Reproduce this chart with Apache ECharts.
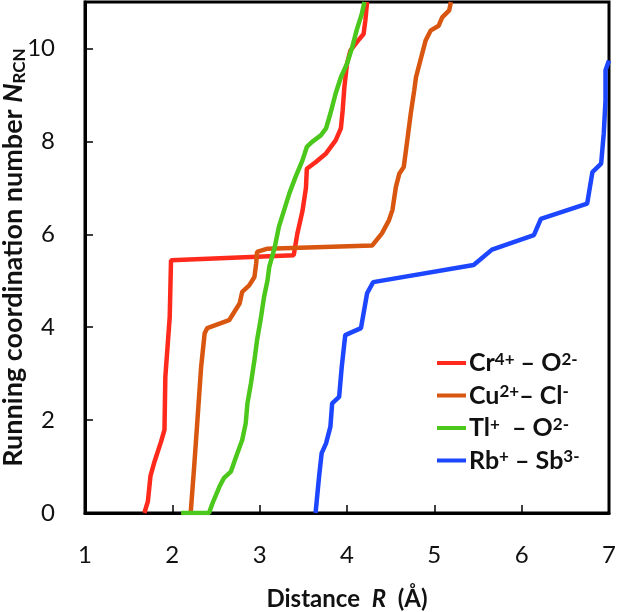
<!DOCTYPE html>
<html>
<head>
<meta charset="utf-8">
<script src="https://cdn.jsdelivr.net/npm/echarts@6/dist/echarts.min.js"></script>
<style>
	html, body {margin: 0; padding: 0; background: #fff;}
	#chart {width: 617px; height: 612px;}
</style>
</head>
<body>
<div id="chart"></div>
<script>
// distance R (Å), running coordination number
const crO = [[1.68, 0], [1.72, 0.25], [1.75, 0.8], [1.79, 1.07], [1.87, 1.53], [1.91, 1.79], [1.92, 2.93], [1.97, 4.22], [1.985, 5.44],
	[3.39, 5.55], [3.43, 6.0], [3.49, 6.5], [3.53, 7.0], [3.54, 7.41], [3.64, 7.55], [3.76, 7.74], [3.87, 8.02], [3.93, 8.28],
	[3.95, 8.66], [3.97, 9.17], [4.0, 9.67], [4.04, 9.96], [4.14, 10.2], [4.19, 10.31], [4.21, 10.6], [4.23, 11]];
const cuCl = [[2.21, 0], [2.25, 1.0], [2.29, 2.07], [2.33, 3.15], [2.37, 3.87], [2.4, 3.98], [2.65, 4.15], [2.77, 4.51], [2.8, 4.76],
	[2.88, 4.9], [2.94, 5.08], [2.96, 5.37], [2.97, 5.62], [3.09, 5.69], [4.29, 5.76], [4.4, 6.02], [4.48, 6.3], [4.52, 6.52],
	[4.56, 7.02], [4.6, 7.31], [4.65, 7.45], [4.69, 8.02], [4.73, 8.6], [4.77, 9.1], [4.79, 9.38], [4.84, 9.74], [4.9, 10.17],
	[4.96, 10.39], [5.05, 10.49], [5.09, 10.67], [5.17, 10.82], [5.19, 11]];
const tlO = [[2.1, 0], [2.42, 0], [2.46, 0.21], [2.54, 0.57], [2.59, 0.75], [2.67, 0.89], [2.73, 1.21], [2.8, 1.57], [2.84, 1.93],
	[2.86, 2.36], [2.9, 2.79], [2.94, 3.29], [2.97, 3.72], [3.01, 4.15], [3.05, 4.65], [3.09, 5.01], [3.11, 5.3], [3.17, 5.7],
	[3.22, 6.16], [3.28, 6.52], [3.34, 6.88], [3.41, 7.23], [3.49, 7.59], [3.54, 7.88], [3.6, 7.99], [3.7, 8.13], [3.76, 8.28],
	[3.81, 8.6], [3.87, 9.03], [3.93, 9.38], [4.0, 9.67], [4.06, 10.03], [4.11, 10.39], [4.17, 10.75], [4.2, 11]];
const rbSb = [[3.64, 0], [3.68, 0.78], [3.71, 1.29], [3.76, 1.5], [3.81, 1.86], [3.83, 2.36], [3.91, 2.5], [3.94, 3.15], [3.98, 3.83],
	[4.16, 3.98], [4.23, 4.73], [4.3, 4.97], [5.45, 5.34], [5.66, 5.67], [6.14, 5.98], [6.22, 6.33], [6.75, 6.66], [6.81, 7.34],
	[6.91, 7.52], [6.94, 8.17], [6.96, 8.88], [6.96, 9.53], [7.0, 9.74]];

const seriesNames = ['Cr4+ – O2-', 'Cu2+– Cl-', 'Tl+ – O2-', 'Rb+ – Sb3-'];
const legendLabels = {
	'Cr4+ – O2-': '{t|Cr}{s|4+}{t| – O}{s|2-}',
	'Cu2+– Cl-': '{t|Cu}{s|2+}{t|– Cl}{s|-}',
	'Tl+ – O2-': '{t|Tl}{s|+}{t|  – O}{s|2-}',
	'Rb+ – Sb3-': '{t|Rb}{s|+}{t| – Sb}{s|3-}'
};
const colors = ['#ff2a1c', '#d8560f', '#4cc81c', '#1c46ff'];

const FONT = 'Lato, "Open Sans", sans-serif';
const chart = echarts.init(document.getElementById('chart'));
chart.setOption({
	animation: false,
	backgroundColor: '#fff',
	color: colors,
	grid: {
		left: 85, right: 8, top: 2, bottom: 99,
		outerBoundsMode: 'none',
		containLabel: false,
		show: true,
		borderColor: '#000',
		borderWidth: 3
	},
	legend: {
		orient: 'vertical',
		left: 437,
		top: 347,
		padding: 0,
		icon: 'rect',
		itemWidth: 29,
		itemHeight: 4,
		itemGap: 4,
		data: seriesNames,
		formatter: name => legendLabels[name],
		textStyle: {
			color: '#111',
			padding: [0, 0, 0, -2],
			rich: {
				t: {fontFamily: FONT, fontWeight: 'bold', fontSize: 25, lineHeight: 32, color: '#111'},
				s: {fontFamily: FONT, fontWeight: 'bold', fontSize: 17, lineHeight: 17, verticalAlign: 'top', padding: [4, 0, 0, 0], color: '#111'}
			}
		}
	},
	xAxis: {
		type: 'value',
		min: 1,
		max: 7,
		interval: 1,
		name: '{t|Distance  }{i|R}{t|  (Å)}',
		nameLocation: 'middle',
		nameGap: 74,
		nameMoveOverlap: false,
		nameTextStyle: {
			rich: {
				t: {fontFamily: FONT, fontWeight: 'bold', fontSize: 24, color: '#111'},
				i: {fontFamily: FONT, fontWeight: 'bold', fontStyle: 'italic', fontSize: 24, color: '#111'}
			}
		},
		axisLine: {show: true, onZero: false, lineStyle: {color: '#000', width: 3}},
		axisTick: {show: true, inside: true, length: 8, lineStyle: {color: '#000', width: 1.5}},
		axisLabel: {fontFamily: FONT, fontSize: 24, color: '#111', margin: 30},
		splitLine: {show: false}
	},
	yAxis: {
		type: 'value',
		min: 0,
		max: 11,
		interval: 2,
		name: '{t|Running coordination number }{i|N}{s|RCN}',
		nameLocation: 'middle',
		nameGap: 57,
		nameMoveOverlap: false,
		nameTextStyle: {
			rich: {
				t: {fontFamily: FONT, fontWeight: 'bold', fontSize: 27, lineHeight: 30, color: '#111'},
				i: {fontFamily: FONT, fontWeight: 'bold', fontStyle: 'italic', fontSize: 27, lineHeight: 30, color: '#111'},
				s: {fontFamily: FONT, fontWeight: 'bold', fontSize: 17, lineHeight: 17, verticalAlign: 'bottom', color: '#111'}
			}
		},
		axisLine: {show: true, onZero: false, lineStyle: {color: '#000', width: 3}},
		axisTick: {show: true, inside: true, length: 8, lineStyle: {color: '#000', width: 1.5}},
		axisLabel: {fontFamily: FONT, fontSize: 24, color: '#111', margin: 30, showMaxLabel: false},
		splitLine: {show: false}
	},
	series: [crO, cuCl, tlO, rbSb].map((data, i) => ({
		name: seriesNames[i],
		type: 'line',
		data: data,
		symbol: 'none',
		clip: true,
		lineStyle: {width: 4.5, color: colors[i]},
		z: 2 + i
	}))
});
</script>
</body>
</html>
